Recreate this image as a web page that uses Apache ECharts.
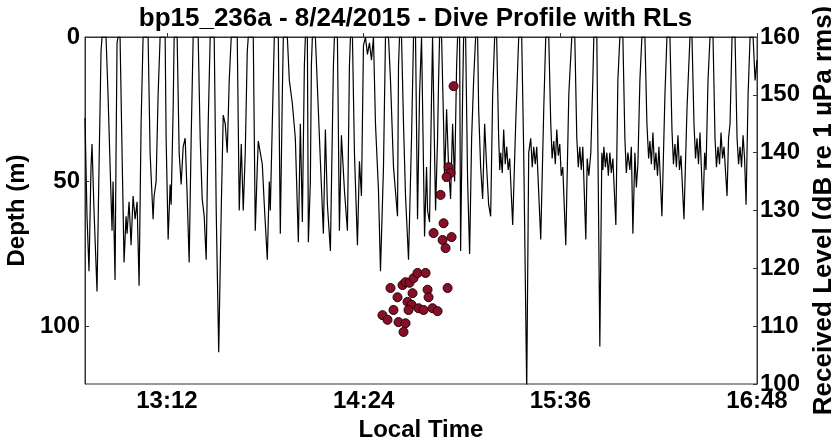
<!DOCTYPE html>
<html>
<head>
<meta charset="utf-8">
<title>Dive Profile with RLs</title>
<script src="https://cdn.jsdelivr.net/npm/echarts@6/dist/echarts.min.js"></script>
<style>
html, body { margin: 0; padding: 0; background: #fff; }
#chart { width: 831px; height: 441px; }
</style>
</head>
<body>
<div id="chart"></div>
<script>
// seconds after 12:42:00 local time, depth in metres
var diveProfile = [
  [0,28],[44,62],[88,81],[132,45],[154,37],[198,60],[264,88],[308,45],[352,5],[374,0],[462,0],
  [506,20],[550,44],[594,67],[616,50],[660,84],[682,40],[704,2],[726,0],[770,0],
  [814,40],[858,78],[902,62],[924,68],[968,57],[1012,72],[1056,55],[1100,63],[1144,57],[1188,86],[1232,30],[1276,0],[1386,0],
  [1430,40],[1452,48],[1496,63],[1518,55],[1562,50],[1606,20],[1650,0],[1760,0],
  [1782,35],[1826,70],[1870,51],[1892,58],[1936,25],[1958,0],[2024,0],
  [2068,40],[2112,51],[2156,38],[2200,35],[2244,55],[2288,78],[2332,35],[2376,0],[2486,0],
  [2530,35],[2574,56],[2618,62],[2662,77],[2706,30],[2750,0],[2838,0],
  [2882,60],[2937,109],[2992,60],[3036,27],[3080,30],[3124,40],[3168,15],[3212,0],[3344,0],
  [3366,30],[3388,60],[3432,37],[3476,60],[3520,40],[3564,5],[3586,0],[3696,0],
  [3740,67],[3784,45],[3806,36],[3850,40],[3894,44],[3938,58],[4004,77],[4048,50],[4070,60],[4114,30],[4158,0],[4246,0],
  [4290,68],[4334,20],[4356,0],[4444,0],
  [4488,15],[4554,23],[4620,35],[4686,71],[4730,30],[4774,64],[4818,10],[4840,0],[4884,0],
  [4906,71],[4950,50],[4972,10],[4994,0],[5060,0],
  [5104,17],[5170,43],[5236,68],[5280,32],[5324,58],[5390,74],[5456,10],[5478,0],[5544,0],
  [5588,67],[5632,34],[5698,53],[5764,67],[5808,10],[5830,0],[5874,0],
  [5918,40],[5984,72],[6028,43],[6072,55],[6116,3],[6160,0],[6204,6],[6248,2],[6292,8],[6336,0],
  [6380,30],[6446,53],[6490,81],[6556,45],[6600,0],[6666,0],
  [6710,15],[6776,45],[6864,62],[6886,10],[6908,0],[6952,0],
  [6996,30],[7040,55],[7106,77],[7172,35],[7216,0],[7260,0],
  [7304,63],[7348,20],[7392,0],[7414,0],
  [7458,69],[7502,45],[7524,60],[7568,64],[7612,20],[7634,0],[7656,0],
  [7700,60],[7744,35],[7766,15],[7788,0],[7832,0],
  [7876,30],[7898,50],[7942,25],[7986,45],[8030,56],[8074,30],[8118,50],[8162,10],[8184,0],[8228,0],
  [8250,74],[8294,20],[8316,0],[8360,0],
  [8404,50],[8448,75],[8492,35],[8536,15],[8580,0],[8624,0],
  [8646,25],[8690,45],[8734,56],[8778,30],[8822,45],[8866,58],[8910,62],[8954,20],[8998,0],[9042,0],
  [9086,35],[9110,46],[9130,40],[9165,47],[9196,32],[9230,44],[9262,38],[9295,46],[9328,42],[9394,65],[9460,30],[9526,0],[9592,0],
  [9636,40],[9702,122],[9746,40],[9790,35],[9823,45],[9856,38],[9890,44],[9922,38],[10010,70],[10076,25],[10120,0],[10186,0],
  [10230,30],[10260,42],[10296,36],[10330,44],[10362,32],[10395,41],[10428,37],[10460,48],[10494,45],[10560,72],[10626,20],[10692,0],[10758,0],
  [10802,35],[10835,45],[10868,38],[10900,46],[10934,38],[11000,70],[11030,42],[11066,48],[11110,40],[11154,15],[11176,0],[11242,0],
  [11308,107],[11352,40],[11375,46],[11396,38],[11430,45],[11462,40],[11495,48],[11528,40],[11560,47],[11594,42],[11660,65],[11704,15],[11748,0],[11814,0],
  [11858,35],[11890,47],[11924,40],[11968,46],[12000,38],[12034,68],[12078,40],[12110,52],[12144,44],[12188,15],[12232,0],[12298,0],
  [12342,30],[12380,42],[12408,36],[12440,44],[12474,33],[12510,46],[12540,40],[12575,48],[12606,38],[12672,62],[12738,20],[12782,0],[12848,0],
  [12892,32],[12925,44],[12958,37],[12990,45],[13024,34],[13057,46],[13090,41],[13156,63],[13222,25],[13288,0],[13332,0],
  [13376,30],[13410,42],[13442,35],[13475,44],[13508,33],[13574,60],[13610,40],[13640,46],[13684,15],[13728,0],[13794,0],
  [13838,35],[13870,45],[13904,38],[13937,44],[13970,33],[14003,42],[14036,38],[14102,55],[14135,35],[14168,30],[14212,0],[14278,0],
  [14322,35],[14355,44],[14388,38],[14420,45],[14454,34],[14487,42],[14520,58],[14564,20],[14608,0],[14674,0],
  [14718,15],[14760,8]
];

// received levels, seconds after 12:42:00, dB re 1 uPa rms
var rlPoints = [
  [8096,151.5],[7986,137.5],[8030,136.5],[7942,135.8],[7810,132.7],
  [7876,127.8],[7656,126.1],[7854,124.9],[8052,125.4],[7920,123.5],
  [6710,116.6],[6864,115.0],[6974,117.1],[7040,117.6],[7128,117.5],
  [7216,118.3],[7304,119.2],[7084,114.2],[7194,115.7],[7172,113.7],
  [6776,112.8],[6534,111.9],[6644,111.1],[6886,110.7],[7040,110.5],
  [6996,109.0],[7106,112.8],[7326,113.1],[7480,119.2],[7524,116.3],
  [7546,115.0],[7436,112.8],[7634,113.1],[7744,112.6],[7964,116.6]
];

var timeTicks = [1800, 6120, 10440, 14760];
var startMinute = 12 * 60 + 42;

function clock(sec) {
  var m = Math.round(startMinute + sec / 60);
  var h = Math.floor(m / 60), mm = m % 60;
  return h + ':' + (mm < 10 ? '0' : '') + mm;
}

var font = 'Liberation Sans';
var labelStyle = { color: '#000', fontFamily: font, fontWeight: 'bold', fontSize: 24 };
var nameStyle = { color: '#000', fontFamily: font, fontWeight: 'bold', fontSize: 24 };

var chart = echarts.init(document.getElementById('chart'));
chart.setOption({
  animation: false,
  backgroundColor: '#fff',
  title: {
    text: 'bp15_236a - 8/24/2015 - Dive Profile with RLs',
    left: 'center',
    top: 1,
    textStyle: { color: '#000', fontFamily: font, fontWeight: 'bold', fontSize: 26 }
  },
  grid: {
    left: 85, right: 74, top: 37, bottom: 57,
    outerBoundsMode: 'none',
    show: true, borderColor: '#333', borderWidth: 1
  },
  xAxis: {
    type: 'value',
    min: 0,
    max: 14760,
    name: 'Local Time',
    nameLocation: 'middle',
    nameGap: 32,
    nameTextStyle: nameStyle,
    axisLine: { show: true, lineStyle: { color: '#333' } },
    axisTick: { inside: true, length: 4, customValues: timeTicks, lineStyle: { color: '#333' } },
    axisLabel: Object.assign({ customValues: timeTicks, margin: 5, formatter: clock }, labelStyle),
    splitLine: { show: false }
  },
  yAxis: [{
    type: 'value',
    inverse: true,
    min: 0,
    max: 120,
    interval: 50,
    name: 'Depth (m)',
    nameLocation: 'middle',
    nameGap: 45,
    nameTextStyle: nameStyle,
    axisLine: { show: true, lineStyle: { color: '#333' } },
    axisTick: { show: true, inside: true, length: 4, lineStyle: { color: '#333' } },
    axisLabel: Object.assign({ margin: 5, showMaxLabel: false }, labelStyle),
    splitLine: { show: false }
  }, {
    type: 'value',
    position: 'right',
    min: 100,
    max: 160,
    interval: 10,
    name: 'Received Level (dB re 1 \u00b5Pa rms)',
    nameLocation: 'middle',
    nameGap: 44,
    nameRotate: 90,
    nameTextStyle: { color: '#000', fontFamily: font, fontWeight: 'bold', fontSize: 26 },
    axisLine: { show: true, lineStyle: { color: '#333' } },
    axisTick: { show: true, inside: true, length: 4, lineStyle: { color: '#333' } },
    axisLabel: Object.assign({ margin: 3 }, labelStyle),
    splitLine: { show: false }
  }],
  series: [{
    name: 'Depth',
    type: 'line',
    yAxisIndex: 0,
    data: diveProfile,
    showSymbol: false,
    clip: true,
    lineStyle: { color: '#000', width: 1.2 },
    z: 2
  }, {
    name: 'RL',
    type: 'scatter',
    yAxisIndex: 1,
    data: rlPoints,
    symbolSize: 9,
    itemStyle: { color: '#861028', borderColor: '#2a0008', borderWidth: 1, opacity: 1 },
    z: 3
  }]
});
</script>
</body>
</html>
